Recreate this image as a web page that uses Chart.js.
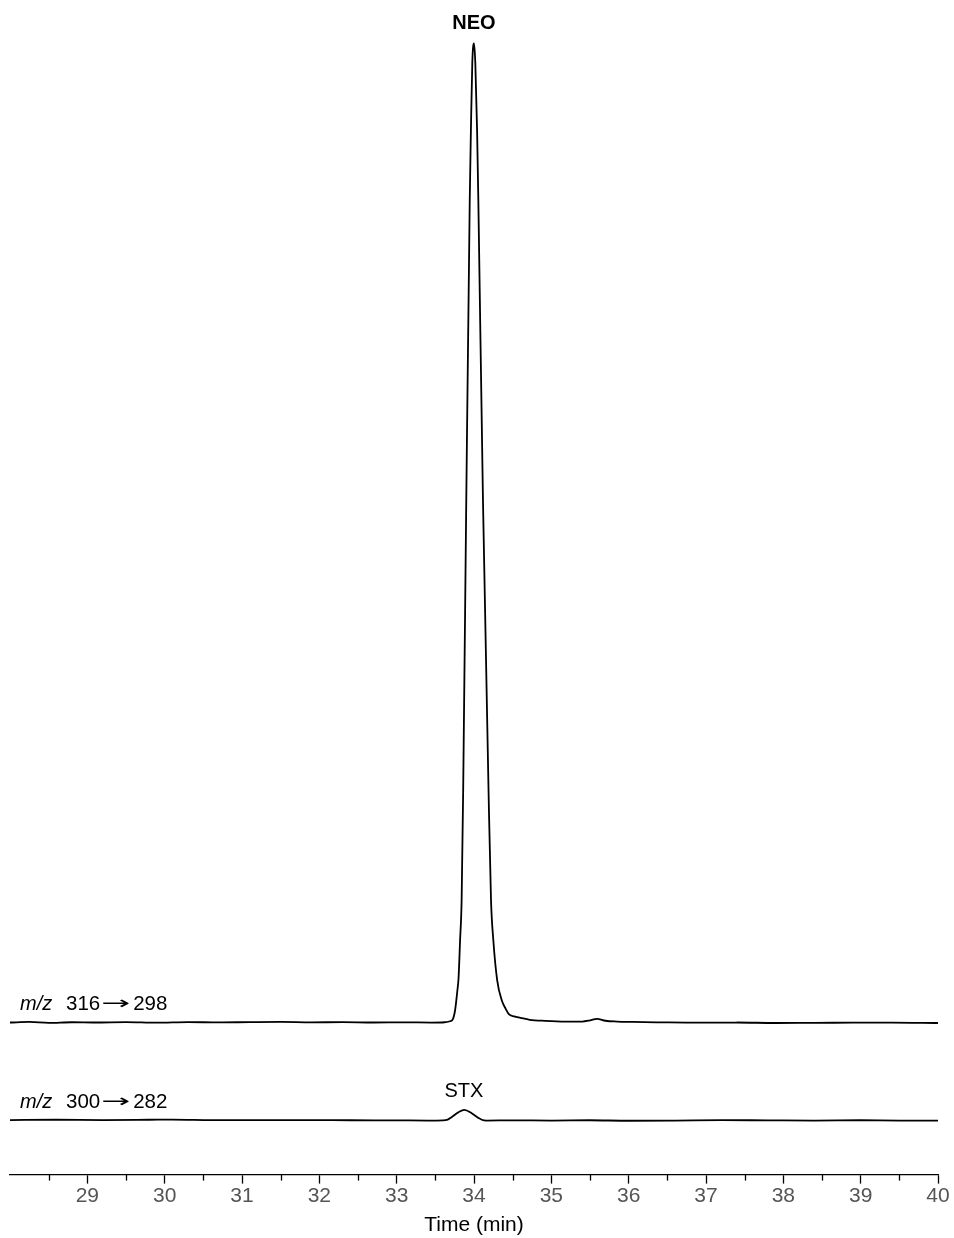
<!DOCTYPE html>
<html>
<head>
<meta charset="utf-8">
<script src="https://cdn.jsdelivr.net/npm/chart.js@4"></script>
<style>
	html, body { margin: 0; padding: 0; background: #fff; }
	canvas { display: block; }
</style>
</head>
<body>
<canvas id="chrom" width="954" height="1238"></canvas>
<script>
// retention time (min) and signal (% of NEO apex)
const neoTime = [28.00, 28.25, 28.50, 28.80, 29.10, 29.50, 29.90, 30.30, 30.70, 31.10, 31.50, 31.90, 32.30, 32.70, 33.10, 33.45,
	33.62, 33.69, 33.72, 33.755, 33.785, 33.80, 33.82, 33.84, 33.86, 33.90, 33.945, 33.96, 33.978, 34.00,
	34.017, 34.04, 34.056, 34.116, 34.188, 34.22, 34.25, 34.30, 34.36, 34.41, 34.45, 34.52, 34.60, 34.72, 34.92,
	35.18, 35.40, 35.50, 35.59, 35.70, 35.85, 36.05, 36.40, 36.90, 37.40, 37.90, 38.40, 38.90, 39.40, 40.00];
const neoSignal = [0.00, 0.06, -0.04, 0.03, 0.00, 0.04, -0.02, 0.05, 0.01, 0.04, 0.06, 0.02, 0.04, 0.00, 0.02, 0.00,
	0.03, 0.13, 0.25, 1.23, 3.27, 4.5, 8.4, 12.5, 23.7, 53.3, 84.0, 91.1, 98.0, 100,
	98.0, 91.1, 84.0, 53.3, 23.7, 12.5, 8.4, 4.3, 2.25, 1.4, 0.85, 0.62, 0.48, 0.28, 0.17,
	0.10, 0.10, 0.22, 0.38, 0.18, 0.10, 0.06, 0.02, -0.02, 0.00, -0.05, -0.03, -0.02, 0.00, -0.05];

const stxTime = [28.00, 28.60, 29.20, 29.80, 30.10, 30.60, 31.20, 31.80, 32.40, 33.00, 33.40, 33.60, 33.66, 33.71,
	33.80, 33.875, 33.97, 34.056, 34.10, 34.16, 34.50, 35.00, 35.50, 36.00, 36.60, 37.20, 37.80, 38.40, 39.00, 39.50, 40.00];
const stxSignal = [0.05, 0.08, 0.05, 0.08, 0.10, 0.05, 0.04, 0.05, 0.03, 0.02, 0.00, 0.02, 0.10, 0.34,
	0.85, 1.09, 0.75, 0.27, 0.08, 0.00, 0.02, 0.00, 0.03, -0.02, 0.00, 0.04, 0.02, 0.00, 0.03, 0.00, 0.00];

const timeTicks = [29, 30, 31, 32, 33, 34, 35, 36, 37, 38, 39, 40];

// vertical offset of each trace
const neoOffset = 15.53;
const stxOffset = 5.52;

function toPoints(times, values, offset) {
	return times.map((t, i) => ({ x: t, y: values[i] + offset }));
}

Chart.defaults.font.family = "'Liberation Sans', Arial, Helvetica, sans-serif";

const annotate = {
	id: "annotate",
	afterDraw(chart) {
		const ctx = chart.ctx;
		const xs = chart.scales.x;
		const ys = chart.scales.y;
		const area = chart.chartArea;

		// minor ticks on half minutes
		ctx.save();
		ctx.strokeStyle = "#000";
		ctx.lineWidth = 1.3;
		for (let v = xs.min + 0.5; v < xs.max; v += 1) {
			const px = Math.round(xs.getPixelForValue(v)) + 0.5;
			ctx.beginPath();
			ctx.moveTo(px, area.bottom);
			ctx.lineTo(px, area.bottom + 6);
			ctx.stroke();
		}

		ctx.fillStyle = "#000";
		ctx.textBaseline = "alphabetic";

		ctx.font = "bold 20px 'Liberation Sans', Arial, sans-serif";
		ctx.textAlign = "center";
		ctx.fillText("NEO", xs.getPixelForValue(34.0), ys.getPixelForValue(neoOffset + 100) - 14);

		ctx.font = "20px 'Liberation Sans', Arial, sans-serif";
		ctx.fillText("STX", xs.getPixelForValue(33.87), ys.getPixelForValue(stxOffset + 1.09) - 13);

		ctx.textAlign = "left";
		drawTransition(ctx, area.left + 10, ys.getPixelForValue(neoOffset) - 13, "316", "298");
		drawTransition(ctx, area.left + 10, ys.getPixelForValue(stxOffset) - 13, "300", "282");
		ctx.restore();
	},
};

function drawTransition(ctx, x, y, from, to) {
	ctx.font = "italic 20px 'Liberation Sans', Arial, sans-serif";
	ctx.fillText("m/z", x, y);
	let cx = x + 46;
	ctx.font = "20.5px 'Liberation Sans', Arial, sans-serif";
	ctx.fillText(from, cx, y);
	cx += ctx.measureText(from).width + 1;
	// long arrow, stretched sideways
	ctx.save();
	ctx.font = "18px 'DejaVu Sans', sans-serif";
	const aw = ctx.measureText("\u2192").width;
	ctx.translate(cx, y - 1);
	ctx.scale(29 / aw, 1);
	ctx.fillText("\u2192", 0, 0);
	ctx.restore();
	cx += 32;
	ctx.fillText(to, cx, y);
}

const lineStyle = {
	borderColor: "#000",
	borderWidth: 1.8,
	pointRadius: 0,
	fill: false,
	cubicInterpolationMode: "monotone",
};

new Chart(document.getElementById("chrom"), {
	type: "line",
	data: {
		datasets: [
			Object.assign({ label: "m/z 316\u2192298", data: toPoints(neoTime, neoSignal, neoOffset) }, lineStyle),
			Object.assign({ label: "m/z 300\u2192282", data: toPoints(stxTime, stxSignal, stxOffset) }, lineStyle),
		],
	},
	options: {
		responsive: false,
		animation: false,
		events: [],
		layout: { padding: { left: 10, right: 16, top: 24, bottom: 0 } },
		plugins: {
			legend: { display: false },
			tooltip: { enabled: false },
		},
		scales: {
			x: {
				type: "linear",
				min: 28,
				max: 40,
				border: { display: true, color: "#000", width: 1.3 },
				grid: {
					drawOnChartArea: false,
					drawTicks: true,
					tickLength: 9,
					tickWidth: 1.3,
					tickColor: (c) => (c.tick && timeTicks.includes(c.tick.value) ? "#000" : "rgba(0,0,0,0)"),
				},
				ticks: {
					stepSize: 0.5,
					autoSkip: false,
					maxRotation: 0,
					padding: 0,
					color: "#555",
					font: { size: 21 },
					callback: (v) => (timeTicks.includes(v) ? String(v) : ""),
				},
				title: {
					display: true,
					text: "Time (min)",
					color: "#000",
					font: { size: 21 },
					padding: { top: 4, bottom: 0 },
				},
			},
			y: {
				display: false,
				min: 0,
				max: 117.5,
			},
		},
	},
	plugins: [annotate],
});
</script>
</body>
</html>
